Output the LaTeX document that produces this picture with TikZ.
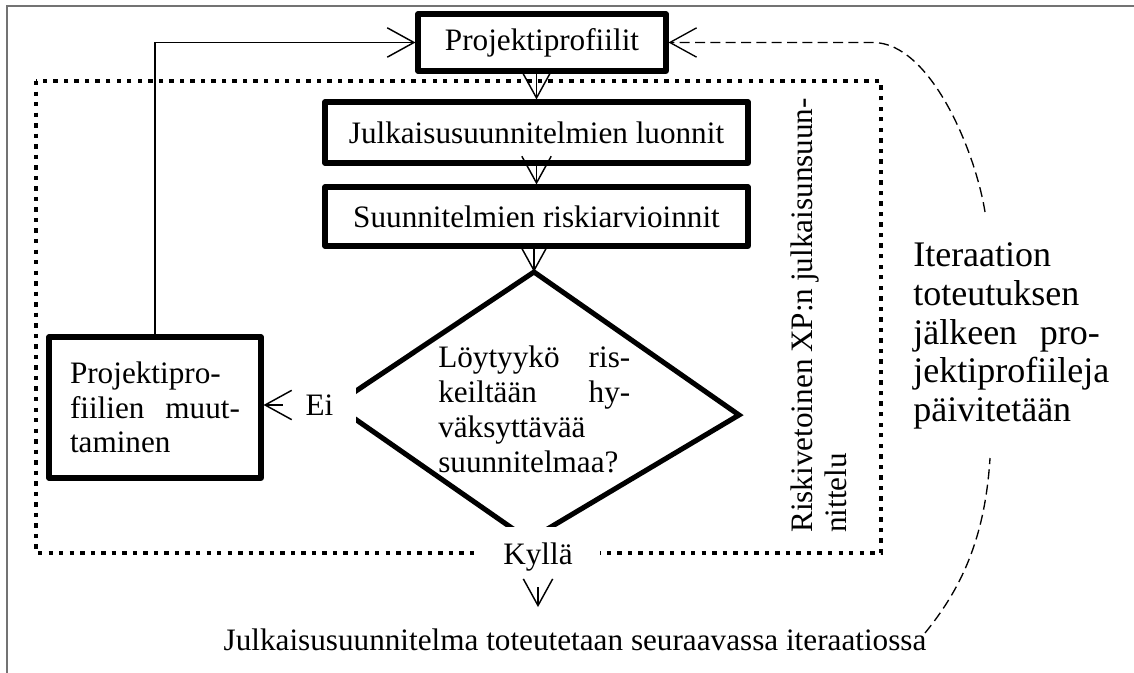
\documentclass[tikz,border=0pt]{standalone}
\usepackage{fontspec}
\setmainfont{Liberation Serif}
\usetikzlibrary{arrows.meta}

% a line of given width whose words are pushed apart to fill it
\newcommand\spreadline[2]{\leavevmode\hbox to #1{#2}}

\begin{document}
\begin{tikzpicture}[x=0.75pt,y=-0.75pt,
  txt/.style={font=\fontsize{23.4}{26}\selectfont, inner sep=0pt},
  bigtxt/.style={font=\fontsize{27}{29}\selectfont, inner sep=0pt},
  box/.style={txt, draw, line width=3.8pt, line join=round, align=center},
  tip/.style={-{Straight Barb[length=20pt,width=22pt]}},
  conn/.style={line width=1.1pt, tip},
  feedback/.style={line width=1pt, dash pattern=on 7.5pt off 4pt},
  labelbg/.style={txt, fill=white},
]
\useasboundingbox (0,0) rectangle (1134,673);

% page frame
\draw[black!55, line width=0.9pt] (7,673) -- (7,6) -- (1134,6);

% dotted region of the planning loop
\draw[line width=3.3pt, dash pattern=on 3.3pt off 4.6pt] (36,81) rectangle (881,553);

% process boxes
\node[box, minimum width=186pt, minimum height=42.75pt] (proj) at (542,42.5) {Projektiprofiilit};
\node[box, minimum width=317.25pt, minimum height=45.75pt] (julk) at (536.5,132.5) {Julkaisusuunnitelmien luonnit};
\node[box, minimum width=317.25pt, minimum height=44.25pt] (suun) at (536.5,216.5) {Suunnitelmien riskiarvioinnit};
\node[box, minimum width=159pt, minimum height=105.75pt, text width=127.5pt, align=left] (muut) at (155,407.5)
  {Projektipro-\\\spreadline{127.5pt}{fiilien\hfill muut-}\\taminen};

% decision diamond
\coordinate (dT) at (534,272);
\coordinate (dR) at (739,415);
\coordinate (dB) at (529,540);
\coordinate (dL) at (335,405);
\draw[line width=3.8pt] (dT) -- (dR) -- (dB) -- (dL) -- cycle;
\node[txt, text width=144pt, align=left, anchor=base west] (q) at (438,368)
  {\spreadline{144pt}{Löytyykö\hfill ris-}\\\spreadline{144pt}{keiltään\hfill hy-}\\väksyttävää\\suunnitelmaa?};

% branch labels
\node[labelbg, minimum width=54.75pt, minimum height=30pt] (ei) at (319.5,405) {Ei};
\node[labelbg, minimum width=93pt, minimum height=45pt] (kyl) at (538,557) {Kyllä};

% outcome
\node[txt, anchor=base, inner ysep=15.75pt] (out) at (575,650) {Julkaisusuunnitelma toteutetaan seuraavassa iteraatiossa};

% side captions
\node[txt, rotate=90, anchor=base west, text width=326pt, align=left] (xp) at (812,533)
  {\spreadline{326pt}{Riskivetoinen\hfill XP:n\hfill julkaisunsuun-}\\nittelu};
\node[bigtxt, anchor=base west, text width=140pt, align=left] (iter) at (913,267)
  {Iteraation\\toteutuksen\\\spreadline{140pt}{jälkeen\hfill pro-}\\jektiprofiileja\\päivitetään};

% connectors
\draw[conn] (proj.south -| julk.north) -- (julk.north);
\draw[conn] (julk.south) -- (suun.north);
\draw[conn] (suun.south -| dT) -- (dT);
\draw[conn] (ei.west) -- (muut.east |- ei.west);
\draw[conn] (kyl.south) -- (out.north -| kyl.south);
\draw[conn] (muut.north) |- (proj.west);

% feedback after the iteration
\coordinate (c1) at (985,212);
\coordinate (c2) at (990,458);
\coordinate (c3) at (925,633);
\draw[feedback, tip] (c1) .. controls (975,150) and (930,42.5) .. (873,42.5) -- (proj.east);
\draw[feedback] (c3) .. controls (960,590) and (985,540) .. (c2);
\end{tikzpicture}
\end{document}
